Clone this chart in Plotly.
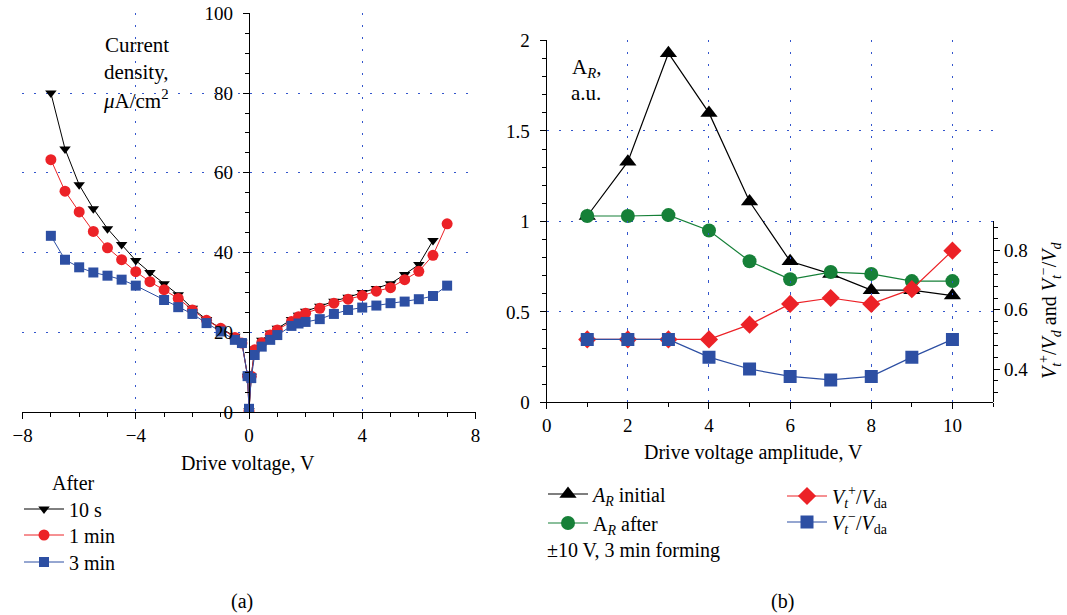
import plotly.graph_objects as go

# ---------------- Panel (a): current density vs drive voltage ----------------
volt_a = [-7, -6.5, -6, -5.5, -5, -4.5, -4, -3.5, -3, -2.5, -2, -1.5, -1,
          -0.5, -0.25, -0.05, 0, 0.08, 0.2, 0.45, 0.75, 1, 1.5, 1.75, 2,
          2.5, 3, 3.5, 4, 4.5, 5, 5.5, 6, 6.5, 7]
j_10s = [80, 66, 57, 51, 46, 42, 38, 35, 32.2, 29.4, 26, 23.2, 21,
         19, 17.5, 9, 0.3, 9, 15.8, 18, 19.8, 21, 23.2, 24.3, 25.3,
         26.5, 27.8, 28.8, 30, 31, 32.2, 34.5, 37, 43, None]
j_1min = [63.3, 55.4, 50.2, 45.3, 41.2, 38.2, 35.2, 32.7, 30.7, 28.5, 25.6, 23, 21,
          18.7, 17.3, 9, 0.3, 9, 15.6, 17.4, 19.3, 20.6, 22.7, 23.9, 24.8,
          26, 27.3, 28.3, 29.2, 30.3, 31.2, 33.2, 35.3, 39.3, 47.2]
j_3min = [44.2, 38.2, 36.3, 35, 34.2, 33.2, 31.7, None, 28.1, 26.3, 24.6, 22.3, 20.2,
          18.1, 17.3, 9, 0.8, 8.5, 14.3, 16.4, 18.1, 19.3, 21.6, 22.2, 22.6,
          23.3, 24.6, 25.6, 26.2, 26.7, 27.3, 27.7, 28.3, 29.1, 31.7]

# ---------------- Panel (b): A_R and threshold ratios vs amplitude ----------------
amp_b = [1, 2, 3, 4, 5, 6, 7, 8, 9, 10]
ar_initial = [1.03, 1.33, 1.93, 1.6, 1.11, 0.78, 0.71, 0.62, 0.62, 0.59]
ar_after = [1.03, 1.03, 1.035, 0.95, 0.78, 0.68, 0.72, 0.71, 0.67, 0.67]
vt_plus = [0.5, 0.5, 0.5, 0.5, 0.55, 0.62, 0.64, 0.62, 0.67, 0.8]
vt_minus = [0.5, 0.5, 0.5, 0.44, 0.40, 0.375, 0.363, 0.375, 0.44, 0.50]

W, H = 1067, 615
FONT = "Liberation Serif"
FS = 20
TFS = 19
GRID = "#3355cc"
BLACK = "#000000"
RED = "#ec2227"
BLUE = "#2d4fa3"
GREEN = "#168038"


def px(x):
    return x / W


def py(y):
    return 1 - y / H


fig = go.Figure()

# panel (a) traces
fig.add_trace(go.Scatter(x=volt_a, y=j_10s, mode="lines+markers", name="10 s",
                         line=dict(color=BLACK, width=1),
                         marker=dict(symbol="triangle-down", size=10, color=BLACK),
                         connectgaps=True, xaxis="x", yaxis="y", legend="legend"))
fig.add_trace(go.Scatter(x=volt_a, y=j_1min, mode="lines+markers", name="1 min",
                         line=dict(color=RED, width=1),
                         marker=dict(symbol="circle", size=11, color=RED),
                         connectgaps=True, xaxis="x", yaxis="y", legend="legend2"))
fig.add_trace(go.Scatter(x=volt_a, y=j_3min, mode="lines+markers", name="3 min",
                         line=dict(color=BLUE, width=1),
                         marker=dict(symbol="square", size=10, color=BLUE),
                         connectgaps=True, xaxis="x", yaxis="y", legend="legend3"))

# panel (b) traces
fig.add_trace(go.Scatter(x=amp_b, y=ar_initial, mode="lines+markers",
                         name="<i>A<sub>R</sub></i> initial",
                         line=dict(color=BLACK, width=1.2),
                         marker=dict(symbol="triangle-up", size=15, color=BLACK),
                         xaxis="x2", yaxis="y2", legend="legend4"))
fig.add_trace(go.Scatter(x=amp_b, y=ar_after, mode="lines+markers",
                         name="A<sub><i>R</i></sub> after",
                         line=dict(color=GREEN, width=1.2),
                         marker=dict(symbol="circle", size=14, color=GREEN),
                         xaxis="x2", yaxis="y2", legend="legend5"))
fig.add_trace(go.Scatter(x=amp_b, y=vt_plus, mode="lines+markers",
                         name="<i>V</i><sub><i>t</i></sub><sup>+</sup>/<i>V</i><sub>da</sub>",
                         line=dict(color=RED, width=1.2),
                         marker=dict(symbol="diamond", size=14, color=RED),
                         xaxis="x2", yaxis="y3", legend="legend6"))
fig.add_trace(go.Scatter(x=amp_b, y=vt_minus, mode="lines+markers",
                         name="<i>V</i><sub><i>t</i></sub><sup>−</sup>/<i>V</i><sub>da</sub>",
                         line=dict(color=BLUE, width=1.2),
                         marker=dict(symbol="square", size=13, color=BLUE),
                         xaxis="x2", yaxis="y3", legend="legend7"))

axis_common = dict(
    showline=True, linecolor=BLACK, linewidth=1.3,
    ticks="outside", ticklen=6, tickwidth=1.3, tickcolor=BLACK,
    tickfont=dict(family=FONT, size=TFS, color=BLACK),
    zeroline=False, automargin=False,
    gridcolor=GRID, gridwidth=1, griddash="2px,10px",
)

fig.update_layout(
    width=W, height=H,
    margin=dict(l=0, r=0, t=0, b=0),
    paper_bgcolor="white", plot_bgcolor="rgba(0,0,0,0)",
    font=dict(family=FONT, size=FS, color=BLACK),
    xaxis=dict(domain=[px(22), px(476)], range=[-8.02, 8.02], anchor="y",
               tick0=-8, dtick=4, showgrid=True,
               minor=dict(dtick=1, ticks="outside", ticklen=4, tickcolor=BLACK, showgrid=False),
               **axis_common),
    yaxis=dict(domain=[py(412), py(13)], range=[0, 100.1], anchor="free", position=px(249),
               dtick=20, showgrid=True, ticklabelstandoff=6,
               minor=dict(dtick=5, ticks="outside", ticklen=4, tickcolor=BLACK, showgrid=False),
               **axis_common),
    xaxis2=dict(domain=[px(546.7), px(993)], range=[0, 11], anchor="y2",
                dtick=2, showgrid=True,
                minor=dict(dtick=1, ticks="outside", ticklen=4, tickcolor=BLACK, showgrid=False),
                **axis_common),
    yaxis2=dict(domain=[py(402.3), py(40)], range=[0, 2.003], anchor="x2",
                dtick=0.5, showgrid=True, ticklabelstandoff=6,
                minor=dict(dtick=0.1, ticks="outside", ticklen=4, tickcolor=BLACK, showgrid=False),
                **axis_common),
    yaxis3=dict(domain=[py(402.3), py(221.2)], range=[0.2874, 0.8997], anchor="x2",
                side="right", tickvals=[0.4, 0.6, 0.8], ticktext=["0.4", "0.6", "0.8"],
                showgrid=False,
                minor=dict(dtick=0.04, ticks="outside", ticklen=4, tickcolor=BLACK, showgrid=False),
                **axis_common),
    showlegend=True,
)

leg_common = dict(xanchor="left", yanchor="middle", bgcolor="rgba(0,0,0,0)",
                  borderwidth=0, itemwidth=40,
                  font=dict(family=FONT, size=FS, color=BLACK))
fig.update_layout(
    legend=dict(x=px(19), y=py(509), **leg_common),
    legend2=dict(x=px(19), y=py(535), **leg_common),
    legend3=dict(x=px(19), y=py(562), **leg_common),
    legend4=dict(x=px(543), y=py(494), **leg_common),
    legend5=dict(x=px(543), y=py(523), **leg_common),
    legend6=dict(x=px(782), y=py(496), **leg_common),
    legend7=dict(x=px(782), y=py(522), **leg_common),
)

ann = []


def add_text(text, x, y, xanchor="center", yanchor="middle", angle=0, size=FS):
    ann.append(dict(text=text, x=px(x), y=py(y), xref="paper", yref="paper",
                    xanchor=xanchor, yanchor=yanchor, showarrow=False, textangle=angle,
                    font=dict(family=FONT, size=size, color=BLACK)))


add_text("Current", 171, 45, xanchor="right", size=21)
add_text("density,", 171, 72, xanchor="right", size=21)
add_text("<i>μ</i>A/cm<sup>2</sup>", 171, 99, xanchor="right", size=21)
add_text("A<sub><i>R</i></sub>,", 570, 68, xanchor="left", size=21)
add_text("a.u.", 569, 93, xanchor="left", size=21)
add_text("Drive voltage, V", 248, 463)
add_text("Drive voltage amplitude, V", 753, 452)
add_text("After", 50, 483, xanchor="left")
add_text("±10 V, 3 min forming", 545, 550, xanchor="left")
add_text("(a)", 242, 601)
add_text("(b)", 782, 601)
add_text("<i>V</i><sub><i>t</i></sub><sup>+</sup>/<i>V</i><sub><i>d</i></sub> and "
         "<i>V</i><sub><i>t</i></sub><sup>−</sup>/<i>V</i><sub><i>d</i></sub>",
         1050, 311, angle=-90)

fig.update_layout(annotations=ann)

fig.write_html("out.html", config={"displayModeBar": False},
               post_script="document.body.style.margin='0';document.body.style.overflow='hidden';")
